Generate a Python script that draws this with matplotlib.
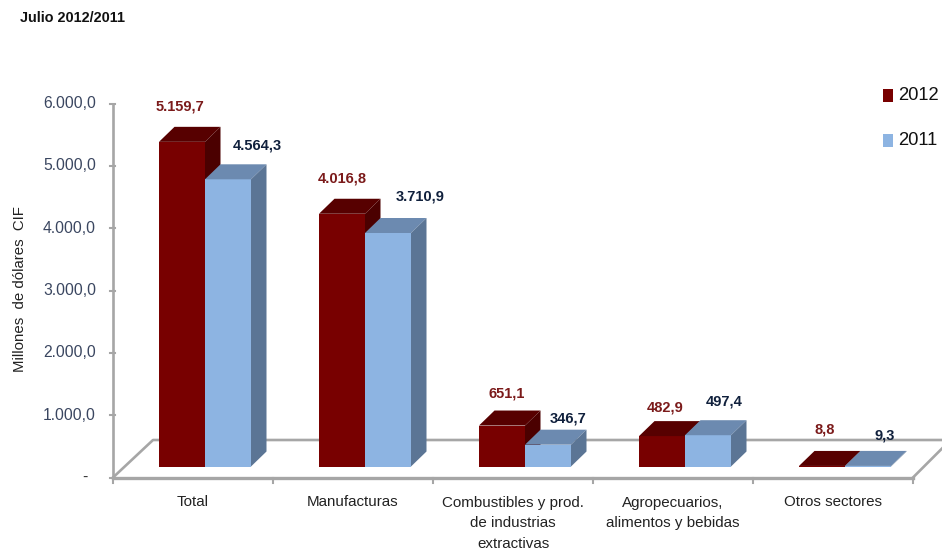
import matplotlib
matplotlib.use('Agg')
from matplotlib import pyplot as plt
from matplotlib.patches import Polygon, Rectangle

categorias = ['Total', 'Manufacturas', 'Combustibles y prod.\nde industrias\nextractivas',
              'Agropecuarios,\nalimentos y bebidas', 'Otros sectores']
valores_2012 = [5159.7, 4016.8, 651.1, 482.9, 8.8]
valores_2011 = [4564.3, 3710.9, 346.7, 497.4, 9.3]
rotulos_2012 = ['5.159,7', '4.016,8', '651,1', '482,9', '8,8']
rotulos_2011 = ['4.564,3', '3.710,9', '346,7', '497,4', '9,3']
ticks_y = [0, 1000, 2000, 3000, 4000, 5000, 6000]
rotulos_y = ['-', '1.000,0', '2.000,0', '3.000,0', '4.000,0', '5.000,0', '6.000,0']

# ajuste manual dos rotulos em pixels (dx, dy para cima), relativo ao topo da barra
ajuste_2012 = [(21, 35), (23, 35), (28, 32), (26, 29), (26, 36)]
ajuste_2011 = [(52, 34), (55, 36), (43, 26), (39, 34), (40, 30)]

plt.rcParams['font.family'] = ['Liberation Sans', 'DejaVu Sans']

W, H = 942, 555
X0, Y0 = 113, 477.5      # origem dos eixos em pixels
PX_CAT = 160             # largura de uma categoria
PX_VAL = 0.0623          # pixels por unidade do eixo y

fig = plt.figure(figsize=(W / 100, H / 100), dpi=100)
ax = fig.add_axes([0, 0, 1, 1])
ax.set_xlim(-X0 / PX_CAT, (W - X0) / PX_CAT)
ax.set_ylim((Y0 - H) / PX_VAL, Y0 / PX_VAL)
ax.axis('off')

# deslocamentos da perspectiva 3D
dx = 15.5 / PX_CAT
dy = 15 / PX_VAL
base = 11 / PX_VAL
larg = 46 / PX_CAT
esc = 1.01


def barra(x, valor, frente, topo, lado):
    h = base + valor * esc
    ax.add_patch(Polygon([(x, base), (x + larg, base), (x + larg, h), (x, h)], fc=frente, ec='none', zorder=3))
    ax.add_patch(Polygon([(x, h), (x + larg, h), (x + larg + dx, h + dy), (x + dx, h + dy)], fc=topo, ec='none', zorder=3))
    ax.add_patch(Polygon([(x + larg, base), (x + larg + dx, base + dy), (x + larg + dx, h + dy), (x + larg, h)],
                         fc=lado, ec='none', zorder=3))


# chao e eixos
cinza = '#a6a6a6'
lw = 1.9
fundo_y = 37.5 / PX_VAL
fim = (W - X0) / PX_CAT
ax.plot([0, 40 / PX_CAT, fim], [0, fundo_y, fundo_y], color=cinza, lw=lw, zorder=1)
ax.plot([5, fim], [0, 29 / PX_VAL], color=cinza, lw=lw, zorder=1)
ax.plot([0, 5], [0, 0], color=cinza, lw=lw + 0.5, zorder=2)
ax.plot([0, 0], [0, 6000], color=cinza, lw=lw, zorder=2)
for i in range(6):
    ax.plot([i, i], [0, -5 / PX_VAL], color=cinza, lw=1.5, zorder=2)
for t, r in zip(ticks_y, rotulos_y):
    ax.plot([-3 / PX_CAT, 2 / PX_CAT], [t, t], color=cinza, lw=1.5, zorder=2)
    x_txt = -17 / PX_CAT if t else -25 / PX_CAT
    ax.text(x_txt, t, r, ha='right', va='center', fontsize=11.3, color='#3a4660' if t else '#333333')

for i in range(len(categorias)):
    x = i + 46 / PX_CAT
    barra(x, valores_2012[i], '#780000', '#570000', '#4b0000')
    barra(x + larg, valores_2011[i], '#8db4e2', '#6c8ab0', '#5b7595')
    ax.text(i + 0.5, -18 / PX_VAL, categorias[i], ha='center', va='top', fontsize=10.9, color='#222222',
            linespacing=1.6)
    ax.text(x + ajuste_2012[i][0] / PX_CAT, base + valores_2012[i] * esc + ajuste_2012[i][1] / PX_VAL,
            rotulos_2012[i], ha='center', va='center', fontsize=10.5, fontweight='bold', color='#7b1a1a')
    ax.text(x + larg + ajuste_2011[i][0] / PX_CAT, base + valores_2011[i] * esc + ajuste_2011[i][1] / PX_VAL,
            rotulos_2011[i], ha='center', va='center', fontsize=10.5, fontweight='bold', color='#10203c', zorder=4)

ax.text(-93 / PX_CAT, 3025, 'Millones  de dólares  CIF', rotation=90, ha='center', va='center',
        fontsize=10.8, color='#222222')
fig.text(20 / W, 1 - 18 / H, 'Julio 2012/2011', ha='left', va='center', fontsize=10.4, fontweight='bold', color='#111111')

# legenda
for y_px, cor, txt in [(95.5, '#780000', '2012'), (140.5, '#8db4e2', '2011')]:
    fig.add_artist(Rectangle((883 / W, 1 - (y_px + 6.5) / H), 10 / W, 13 / H, fc=cor, ec='none',
                             transform=fig.transFigure))
    fig.text(898 / W, 1 - y_px / H, txt, ha='left', va='center', fontsize=13.2, color='#111111')

plt.savefig('out.png', dpi=100)
